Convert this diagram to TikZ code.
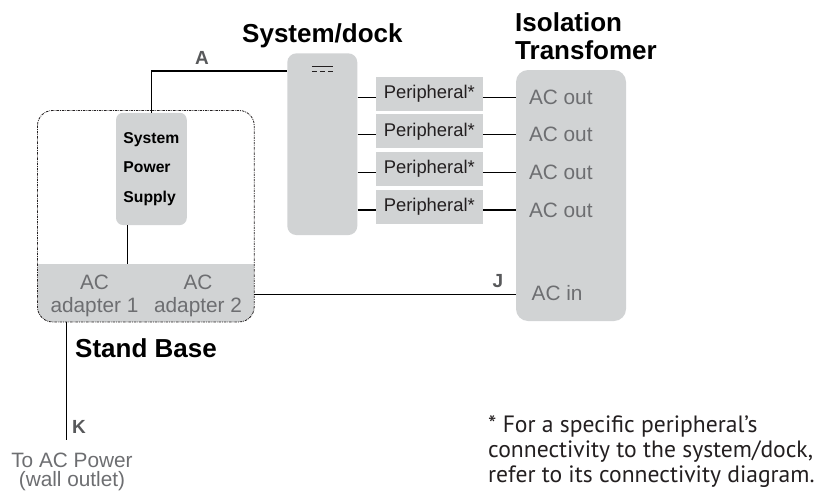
\documentclass[tikz,border=0pt]{standalone}
\usepackage{fontspec}
\setmainfont{Liberation Sans}
\newfontfamily\notefont{PT Sans}
\usetikzlibrary{calc}
\definecolor{panel}{HTML}{D1D3D4}
\definecolor{softtext}{HTML}{6D6E71}
\definecolor{tagtext}{HTML}{58595B}
\definecolor{ink}{HTML}{231F20}
\newcommand\fs[2]{\fontsize{#1}{#2}\selectfont}
\begin{document}
\begin{tikzpicture}[x=1pt,y=-1pt,
  wire/.style={draw=black, line width=1.3pt},
  grayunit/.style={fill=panel, draw=none, inner sep=0pt},
  titletext/.style={font=\bfseries\fs{26}{28}, text=black, inner sep=0pt},
  wirelabel/.style={font=\bfseries\fs{19}{20}, text=tagtext, inner sep=0pt},
  softlabel/.style={font=\fs{20.8}{23}, text=softtext, inner sep=0pt},
  periph/.style={grayunit, minimum width=106.7pt, minimum height=34pt, font=\fs{18.4}{20}, text=ink},
  baseedge/.style={draw=ink, line width=0.8pt, rounded corners=15pt,
    dash pattern=on 2.5pt off 1pt on 0.8pt off 1pt},
]
\useasboundingbox (0,0) rectangle (818,495);

% stand base: gray adapter band inside a dash-dotted rounded outline
\node[inner sep=0pt, minimum width=216.3pt, minimum height=211pt] (stand) at (145.85,216.2) {};
\coordinate (bandtop) at (60,264);
\begin{scope}
  \clip[rounded corners=15pt] (stand.north west) rectangle (stand.south east);
  \fill[panel] (stand.west |- bandtop) rectangle (stand.south east);
\end{scope}
\draw[baseedge] (stand.north west) rectangle (stand.south east);

\node[softlabel, align=center, anchor=north] (ad1) at (94.5,275) {AC\\adapter 1};
\node[softlabel, align=center, anchor=north] (ad2) at (198,275) {AC\\adapter 2};

% system power supply
\node[grayunit, rounded corners=7pt, minimum width=70.7pt, minimum height=112.3pt,
  align=left, font=\bfseries\fs{15.7}{29.5}, text=black] (sps) at (151.4,168.9)
  {System\\Power\\Supply};
\coordinate (spsdown) at ([xshift=-23.7pt]sps.south);
\draw[wire] (spsdown) -- (spsdown |- bandtop);

% system/dock with its DC mark
\node[grayunit, rounded corners=9pt, minimum width=70pt, minimum height=181.7pt] (dock) at (322.3,144.2) {};
\draw[line width=1.6pt, draw=ink] ([xshift=-10.5pt, yshift=-13.5pt]dock.north) -- ++(21,0);
\draw[line width=1.6pt, draw=ink, dash pattern=on 5pt off 3pt] ([xshift=-10.5pt, yshift=-18.5pt]dock.north) -- ++(21,0);

\draw[wire] (sps.north) |- ($(dock.north west)+(0,17.7)$);
\node[wirelabel] (la) at (202,58) {A};

% isolation transformer
\node[grayunit, rounded corners=12pt, minimum width=110pt, minimum height=251pt] (trans) at (571,195.5) {};

% peripherals between dock and transformer outlets
\foreach \i/\y in {1/93.7,2/131.3,3/168.9,4/206.5}{
  \node[periph] (p\i) at (429.3,\y) {Peripheral*};
  \coordinate (w\i) at ([yshift=-3.5pt]p\i.west);
  \coordinate (v\i) at ([yshift=-3.5pt]p\i.east);
  \draw[wire] (dock.east |- w\i) -- (w\i);
  \draw[wire] (v\i) -- (trans.west |- v\i);
  \path (trans.west |- v\i) ++(13,0) node[softlabel, anchor=west] (o\i) {AC out};
}

% J: adapter 2 to transformer input
\coordinate (jy) at (400,294.3);
\draw[wire] (stand.east |- jy) -- (trans.west |- jy);
\path (trans.west |- jy) ++(15.7,-1.3) node[softlabel, anchor=west] (acin) {AC in};
\node[wirelabel] (lj) at (498,281) {J};

% K: adapter 1 to wall outlet
\coordinate (kend) at (66.7,440);
\draw[wire] (kend |- stand.south) -- (kend);
\node[wirelabel] (lk) at (79,427) {K};
\node[softlabel, anchor=base] (wall1) at (72,467) {To AC Power};
\node[softlabel, anchor=base] (wall2) at (72,486) {(wall outlet)};

% titles
\node[titletext, anchor=base west] (tdock) at (242,42) {System/dock};
\node[titletext, anchor=base west] (tiso1) at (515,32) {Isolation};
\node[titletext, anchor=base west] (tiso2) at (515,59.5) {Transfomer};
\node[titletext, anchor=base west] (tbase) at (75,357) {Stand Base};

% footnote
\node[anchor=north west, inner sep=0pt, align=left, font=\notefont\fs{23.6}{25}, text=ink] (note)
  at (488,415) {* For a specific peripheral’s\\connectivity to the system/dock,\\refer to its connectivity diagram.};
\end{tikzpicture}
\end{document}
